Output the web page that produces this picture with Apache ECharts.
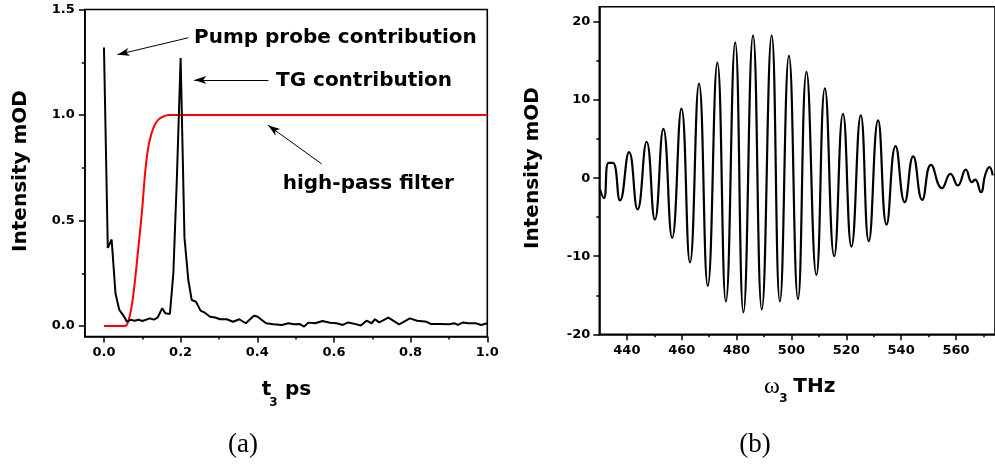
<!DOCTYPE html>
<html><head><meta charset="utf-8">
<script src="https://cdn.jsdelivr.net/npm/echarts@6/dist/echarts.min.js"></script>
<style>html,body{margin:0;padding:0;background:#fff}#c{width:995px;height:465px}</style>
</head><body><div id="c"></div>
<script>
// ---- panel (a): time domain ----
const t3 = [0, 0.01, 0.02, 0.03, 0.04, 0.05, 0.06, 0.07, 0.08, 0.09, 0.10, 0.12, 0.13, 0.14, 0.152, 0.16, 0.172, 0.181, 0.19, 0.20, 0.21, 0.22, 0.229, 0.24, 0.252, 0.263, 0.277, 0.29, 0.303, 0.32, 0.337, 0.353, 0.37, 0.391, 0.40, 0.423, 0.442, 0.464, 0.481, 0.496, 0.51, 0.522, 0.533, 0.551, 0.57, 0.59, 0.607, 0.623, 0.637, 0.654, 0.67, 0.685, 0.698, 0.707, 0.718, 0.742, 0.77, 0.798, 0.817, 0.842, 0.852, 0.876, 0.9, 0.915, 0.923, 0.937, 0.95, 0.97, 0.984, 1.0];
const signalA = [1.32, 0.37, 0.41, 0.155, 0.076, 0.052, 0.02, 0.03, 0.025, 0.03, 0.024, 0.036, 0.03, 0.04, 0.084, 0.06, 0.057, 0.25, 0.69, 1.27, 0.42, 0.218, 0.123, 0.115, 0.073, 0.063, 0.044, 0.04, 0.032, 0.032, 0.02, 0.032, 0.013, 0.049, 0.045, 0.013, 0.008, 0.005, 0.013, 0.008, 0.01, -0.003, 0.016, 0.013, 0.024, 0.015, 0.013, 0.005, 0.017, 0.01, 0.002, 0.025, 0.013, 0.032, 0.017, 0.04, 0.008, 0.036, 0.025, 0.02, 0.01, 0.01, 0.008, 0.013, 0.005, 0.017, 0.013, 0.013, 0.005, 0.013];
const filterT = [0, 0.055, 0.063, 0.072, 0.08, 0.09, 0.1, 0.107, 0.115, 0.124, 0.133, 0.142, 0.155, 0.17, 1.0];
const filterVal = [0, 0, 0.02, 0.09, 0.2, 0.376, 0.56, 0.72, 0.84, 0.913, 0.955, 0.978, 0.993, 1.0, 1.0];
const xTicksA = [0, 0.2, 0.4, 0.6, 0.8, 1.0];
const xMinorA = [0.1, 0.3, 0.5, 0.7, 0.9];
const yTicksA = [0, 0.5, 1.0, 1.5];
const yMinorA = [0.25, 0.75, 1.25];
const annotTexts = ['Pump probe contribution', 'TG contribution', 'high-pass filter'];
const arrowFrom = [[0.22, 1.366], [0.429, 1.166], [0.568, 0.768]];
const arrowTo = [[0.0352, 1.286], [0.2355, 1.166], [0.428, 0.9517]];

// ---- panel (b): frequency domain ----
const omega = [430.1, 431.6, 433.3, 434.9, 437.5, 440.8, 443.9, 447.2, 450.2, 453.3, 456.5, 459.9, 463.0, 466.3, 469.5, 473.0, 476.1, 479.5, 482.5, 486.0, 489.2, 492.8, 495.8, 499.1, 502.4, 505.5, 509.1, 512.2, 515.6, 518.8, 521.9, 525.3, 528.2, 531.6, 534.7, 538.0, 541.3, 544.4, 547.7, 550.9, 554.9, 558.0, 560.7, 563.6, 565.8, 567.0, 569.1, 570.7, 572.2, 573.4];
const signalB = [-1.36, -2.56, 1.95, 1.95, -2.86, 3.33, -4.0, 4.66, -5.3, 6.3, -7.64, 8.9, -10.8, 12.1, -13.8, 14.8, -15.8, 17.4, -17.2, 18.3, -16.8, 18.3, -15.8, 15.7, -15.5, 13.6, -12.4, 11.5, -10.0, 8.25, -8.76, 8.04, -8.07, 7.4, -5.94, 4.1, -3.08, 2.78, -2.77, 1.71, -1.28, 0.56, -0.94, 1.08, -0.5, -0.2, -1.8, 0.47, 1.41, 0.35];
const xTicksB = [440, 460, 480, 500, 520, 540, 560];
const xMinorB = [450, 470, 490, 510, 530, 550, 570];
const yTicksB = [-20, -10, 0, 10, 20];
const yMinorB = [-15, -5, 5, 15];

const FONT = 'DejaVu Sans';
const AX = '#000';
function axis(kind, grid, min, max, major, minor, fmt, margin) {
  const base = {
    type: 'value', gridIndex: grid, min: min, max: max,
    position: kind === 'x' ? 'bottom' : 'left',
    splitLine: { show: false }
  };
  if (minor) {
    return Object.assign(base, {
      axisLine: { show: false, onZero: false },
      axisLabel: { show: false },
      axisTick: { show: true, inside: false, length: 3, customValues: minor, lineStyle: { color: AX, width: 1.5 } }
    });
  }
  return Object.assign(base, {
    axisLine: { show: true, onZero: false, lineStyle: { color: AX, width: 1.6 } },
    axisTick: { show: true, inside: false, length: 6, customValues: major, lineStyle: { color: AX, width: 1.5 } },
    axisLabel: { customValues: major, formatter: fmt, margin: margin, color: '#000',
      fontFamily: FONT, fontWeight: 'bold', fontSize: 13 }
  });
}
const f1 = v => Number(v).toFixed(1);
const f0 = v => String(Math.round(v));

function txt(x, y, text, font, opts) {
  opts = opts || {};
  return {
    type: 'text', x: x, y: y, rotation: opts.rot || 0,
    style: { text: text, font: font, fill: '#000',
      textAlign: opts.align || 'left', align: opts.align || 'left',
      textVerticalAlign: 'middle', verticalAlign: 'middle' }
  };
}
const B20 = 'bold 20px "DejaVu Sans"';
const B12 = 'bold 12px "DejaVu Sans"';
const SER = '27px "Liberation Serif"';

const chart = echarts.init(document.getElementById('c'), null, { renderer: 'canvas' });
chart.setOption({
  animation: false,
  backgroundColor: '#fff',
  grid: [
    { left: 84.8, top: 9.5, width: 402.5, height: 327.05, show: true, borderColor: AX, borderWidth: 1.6, containLabel: false },
    { left: 599.3, top: 6.7, width: 397.2, height: 327.6, show: true, borderColor: AX, borderWidth: 1.6, containLabel: false }
  ],
  xAxis: [
    axis('x', 0, -0.05, 1.0, xTicksA, null, f1, 10),
    axis('x', 0, -0.05, 1.0, null, xMinorA),
    axis('x', 1, 429.94, 574.24, xTicksB, null, f0, 10),
    axis('x', 1, 429.94, 574.24, null, xMinorB)
  ],
  yAxis: [
    axis('y', 0, -0.05, 1.5, yTicksA, null, f1, 10),
    axis('y', 0, -0.05, 1.5, null, yMinorA),
    axis('y', 1, -20, 21.96, yTicksB, null, f0, 9),
    axis('y', 1, -20, 21.96, null, yMinorB)
  ],
  series: [
    {
      type: 'line', xAxisIndex: 0, yAxisIndex: 0, z: 2,
      data: filterT.map((t, i) => [t, filterVal[i]]),
      smooth: 0.4, showSymbol: false, symbol: 'none',
      lineStyle: { color: '#f00', width: 2 }
    },
    {
      type: 'line', xAxisIndex: 0, yAxisIndex: 0, z: 3,
      data: t3.map((t, i) => [t, signalA[i]]),
      showSymbol: false, symbol: 'none',
      lineStyle: { color: '#000', width: 2 },
      markLine: {
        silent: true, animation: false,
        symbol: ['none', 'arrow'], symbolSize: [6, 12],
        lineStyle: { color: '#000', width: 1, type: 'solid' },
        label: { show: false },
        emphasis: { disabled: true },
        data: arrowFrom.map((a, i) => [{ coord: a }, { coord: arrowTo[i] }])
      }
    },
    {
      type: 'line', xAxisIndex: 2, yAxisIndex: 2, z: 3,
      data: omega.map((w, i) => [w, signalB[i]]),
      smooth: 0.5, showSymbol: false, symbol: 'none',
      lineStyle: { color: '#000', width: 2.2 }
    }
  ],
  graphic: [
    txt(194, 38, annotTexts[0], B20),
    txt(276, 80.3, annotTexts[1], B20),
    txt(282.7, 183.7, annotTexts[2], B20),
    txt(21, 171, 'Intensity mOD', B20, { rot: Math.PI / 2, align: 'center' }),
    txt(533, 168, 'Intensity mOD', B20, { rot: Math.PI / 2, align: 'center' }),
    txt(261.7, 390, 't', B20),
    txt(269.3, 402.5, '3', B12),
    txt(285, 390, 'ps', B20),
    txt(764, 386.5, 'ω', '24px "Liberation Serif"'),
    txt(779.3, 399, '3', B12),
    txt(793.3, 386.5, 'THz', B20),
    txt(243, 445, '(a)', SER, { align: 'center' }),
    txt(755, 445, '(b)', SER, { align: 'center' })
  ]
});
</script>
</body></html>
